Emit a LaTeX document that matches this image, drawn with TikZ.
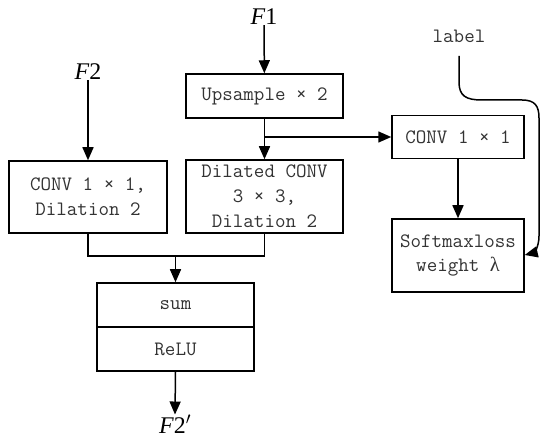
\documentclass[tikz,border=0pt]{standalone}
\usepackage{fontspec}
\setmainfont{Liberation Serif}
\usetikzlibrary{arrows.meta}
\definecolor{txt}{HTML}{333333}
\tikzset{
  boxtext/.style={font=\ttfamily\fontsize{20.5}{25}\selectfont, text=txt},
  box/.style={draw=black, line width=1.5bp, inner sep=0pt, align=center, boxtext},
  arr/.style={line width=1.5bp, -{Triangle[width=11bp,length=13bp]}},
  ln/.style={line width=1.5bp},
  lbl/.style={font=\fontsize{24}{26}\selectfont, inner sep=0pt},
}
\begin{document}
\begin{tikzpicture}[x=1bp,y=-1bp]
\useasboundingbox (0,0) rectangle (550,445);
\node[lbl] (F1) at (264,17) {\textit{F}1};
\node[lbl] (F2) at (88,72) {\textit{F}2};
\node[box, minimum width=157bp, minimum height=44bp] (up) at (264.5,96) {Upsample × 2};
\node[box, minimum width=132bp, minimum height=43bp] (conv) at (458,137) {CONV 1 × 1};
\node[box, minimum width=158bp, minimum height=72bp] (left) at (88,197) {CONV 1 × 1,\\Dilation 2};
\node[box, minimum width=157bp, minimum height=73bp] (dil) at (264.5,196.5) {Dilated CONV\\3 × 3,\\Dilation 2};
\node[box, minimum width=132bp, minimum height=73bp] (soft) at (458,255.5) {Softmaxloss\\weight {\rmfamily λ}};
\node[box, minimum width=157bp, minimum height=44bp] (sum) at (175.5,305) {sum};
\node[box, minimum width=157bp, minimum height=44bp] (relu) at (175.5,349) {ReLU};
\node[lbl] (F2p) at (175,424) {\textit{F}2$'$};
\node[boxtext, inner sep=0pt] (label) at (459,36) {label};
\coordinate (merge) at (175.5,256);
\coordinate (lstart) at (459,56);
\draw[arr] (F1) -- (up);
\draw[arr] (F2) -- (left);
\draw[arr] (up) -- (dil);
\draw[arr] (up.south |- conv.west) -- (conv.west);
\draw[arr] (conv) -- (soft);
\draw[ln] (left.south) |- (merge) -| (dil.south);
\draw[arr] (merge) -- (sum.north);
\draw[arr] (relu.south) -- (F2p.north);
\draw[arr] (lstart) -- (459,82) .. controls (459,96) and (466,100) .. (482,100)
  -- (522,100) .. controls (535,100) and (539,106) .. (539,118)
  -- (539,236) .. controls (539,248) and (533,253) .. (soft.east |- 0,255);
\end{tikzpicture}
\end{document}
